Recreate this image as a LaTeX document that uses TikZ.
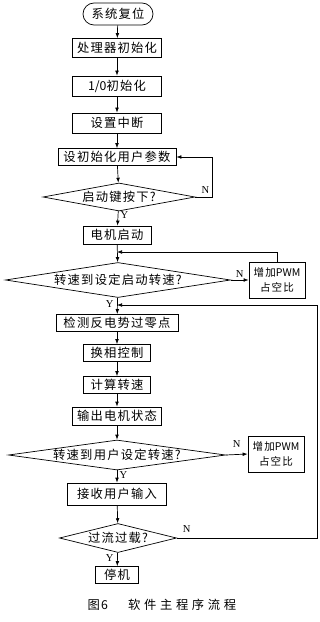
\documentclass[tikz,border=0pt]{standalone}
\usepackage{fontspec}
\setmainfont{Liberation Serif}
\newfontfamily\cjk[LetterSpace=10]{Noto Sans CJK SC}
\newfontfamily\cjktight{Noto Sans CJK SC}
\newfontfamily\capfont[LetterSpace=30]{Noto Sans CJK SC}
\usetikzlibrary{shapes.geometric, arrows.meta}

\begin{document}
\begin{tikzpicture}[x=0.03cm, y=-0.03cm,
    proc/.style={rectangle, draw, line width=0.6pt, inner sep=0pt,
        font=\cjk\fontsize{10.5}{11}\selectfont, minimum height=0.54cm},
    startbox/.style={rectangle, rounded corners=0.33cm, draw, line width=0.6pt,
        font=\cjk\fontsize{10.5}{11}\selectfont, minimum width=2.1cm, minimum height=0.66cm},
    decide/.style={diamond, draw, line width=0.6pt, inner sep=0pt,
        font=\cjk\fontsize{10.5}{11}\selectfont},
    pwm/.style={rectangle, draw, line width=0.6pt, inner sep=0pt, align=center,
        font=\cjk\fontsize{9}{12.5}\selectfont, minimum width=1.68cm, minimum height=1.08cm},
    lbl/.style={inner sep=0pt, font=\fontsize{9}{9}\selectfont},
    line/.style={line width=0.6pt},
    arr/.style={-{Latex[length=1.5mm, width=1.1mm]}}
]
\useasboundingbox (0,0) rectangle (320,622);

% --- 初始化 ---
\node[startbox] (start) at (118,14) {系统复位};
\node[proc, minimum width=2.67cm, minimum height=0.57cm] (init) at (117,48) {处理器初始化};
\node[proc, minimum width=2.67cm, minimum height=0.6cm] (io) at (117,86) {{\cjktight 1/0}初始化};
\node[proc, minimum width=2.67cm, minimum height=0.6cm] (intr) at (117,123) {设置中断};
\node[proc, minimum width=3.54cm, minimum height=0.51cm] (param) at (117,157) {设初始化用户参数};
\node[decide, aspect=5.4, minimum width=4.56cm, minimum height=0.84cm] (key) at (119,197) {启动键按下?};
\node[proc, minimum width=2.04cm] (motor) at (117,235) {电机启动};

% --- 启动加速 ---
\node[decide, aspect=6.4, minimum width=6.75cm, minimum height=1.05cm] (spd1) at (118,280) {转速到设定启动转速?};
\node[pwm] (pwm1) at (277,280) {增加{\cjktight PWM}\\占空比};

% --- 运行 ---
\node[proc, minimum width=3.66cm, minimum height=0.51cm] (detect) at (117,323) {检测反电势过零点};
\node[proc, minimum width=2.01cm, minimum height=0.51cm] (commut) at (117,353) {换相控制};
\node[proc, minimum width=2.01cm, minimum height=0.51cm] (calc) at (117,385) {计算转速};
\node[proc, minimum width=2.67cm] (out) at (117,416) {输出电机状态};
\node[decide, aspect=7.2, minimum width=6.51cm, minimum height=0.9cm] (spd2) at (117,455) {转速到用户设定转速?};
\node[pwm] (pwm2) at (276,454) {增加{\cjktight PWM}\\占空比};
\node[proc, minimum width=2.97cm, minimum height=0.66cm] (input) at (117,494) {接收用户输入};
\node[decide, aspect=4, minimum width=3.51cm, minimum height=0.87cm] (ovl) at (118,538) {过流过载?};
\node[proc, minimum width=1.29cm, minimum height=0.51cm] (stop) at (117,575) {停机};

% --- 汇合点 ---
\coordinate (m1) at (117,252);
\coordinate (m2) at (117,305);
\coordinate (loopA) at (212,0);
\coordinate (loopB) at (317,0);

% --- 题注 ---
\node[font=\capfont\fontsize{10.5}{12}\selectfont] (cap) at (162,605) {图\hspace{1pt}6\hspace{0.6cm}软件主程序流程};

% --- 主流程 ---
\draw[line, arr] (start) -- (init);
\draw[line, arr] (init) -- (io);
\draw[line, arr] (io) -- (intr);
\draw[line, arr] (intr) -- (param);
\draw[line, arr] (param) -- (key);
\draw[line, arr] (key) -- (motor) node[lbl, pos=0.3, right=2pt] {Y};
\draw[line, arr] (motor) -- (spd1);
\draw[line, arr] (spd1) -- (detect) node[lbl, pos=0.4, left=3pt] {Y};
\draw[line, arr] (detect) -- (commut);
\draw[line, arr] (commut) -- (calc);
\draw[line, arr] (calc) -- (out);
\draw[line, arr] (out) -- (spd2);
\draw[line, arr] (spd2) -- (input) node[lbl, pos=0.4, right=2pt] {Y};
\draw[line, arr] (input) -- (ovl);
\draw[line, arr] (ovl) -- (stop) node[lbl, pos=0.4, left=3pt] {Y};

% --- 分支 ---
\draw[line, arr] (key.east) -- (key.east -| loopA) node[lbl, anchor=south east, xshift=-2pt, yshift=3pt] {N} |- (param.east);
\draw[line, arr] (spd1.east) -- (pwm1.west) node[lbl, midway, above=2pt] {N};
\draw[line, arr] (pwm1.north) |- (m1);
\draw[line, arr] (spd2.east) -- (pwm2.west) node[lbl, midway, above=6pt] {N};
\draw[line, arr] (ovl.east) -- node[lbl, pos=0.07, above=4pt] {N} (ovl.east -| loopB) |- (m2);

\end{tikzpicture}
\end{document}
